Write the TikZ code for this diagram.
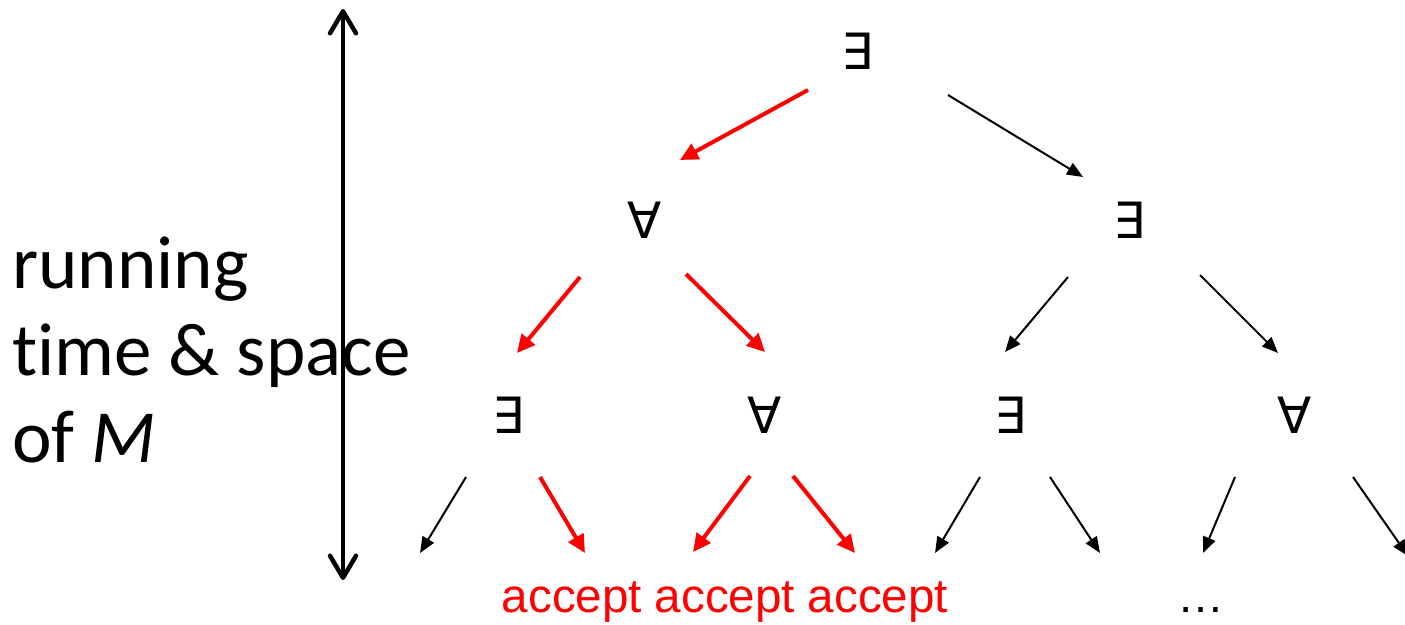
\documentclass[tikz,border=0pt]{standalone}
\usepackage{fontspec}
\setmainfont[Ligatures=NoCommon]{Carlito}
\newfontfamily\arialf{Liberation Sans}
\newfontfamily\symf{DejaVu Sans}
\usetikzlibrary{arrows.meta}
\definecolor{accred}{RGB}{255,0,0}
\tikzset{
  quant/.style={font=\symf\fontsize{50}{54}\selectfont, inner sep=0pt},
  acc/.style={font=\arialf\fontsize{47.6}{52}\selectfont, text=accred, inner sep=0pt, anchor=base},
  redarr/.style={draw=accred, line width=4pt, -{Triangle[length=18pt,width=17pt]}},
  blkarr/.style={draw=black, line width=2pt, -{Triangle[length=16pt,width=13pt]}},
  lbl/.style={font=\fontsize{75}{85}\selectfont, inner sep=0pt, anchor=base west},
}
\begin{document}
\begin{tikzpicture}[x=1pt,y=-1pt]
\useasboundingbox[fill=white] (0,0) rectangle (1405,624);
% time axis
\coordinate (top) at (343,9);
\coordinate (bot) at (343,580);
\draw[line width=4.5pt, line cap=round, {Straight Barb[length=22pt,width=26pt,line cap=round,line join=round]}-{Straight Barb[length=22pt,width=26pt,line cap=round,line join=round]}] (top) -- (bot);
% label
\node[lbl] (t1) at (12,288) {running};
\node[lbl] (t2) at (12,375) {time \& space};
\node[lbl] (t3) at (12,462) {of \textit{M}};
% quantifier nodes
\node[quant] (r) at (857,51) {∃};
\node[quant] (a) at (645,220) {∀};
\node[quant] (b) at (1129,220) {∃};
\node[quant] (c) at (508,415) {∃};
\node[quant] (d) at (765,415) {∀};
\node[quant] (e) at (1010,415) {∃};
\node[quant] (f) at (1295,415) {∀};
% leaves
\node[acc] (acc1) at (572,612) {accept};
\node[acc] (acc2) at (725,612) {accept};
\node[acc] (acc3) at (878,612) {accept};
\node[font=\arialf\fontsize{47}{52}\selectfont, inner sep=0pt, anchor=base] (dots) at (1201,612) {…};
\coordinate (l1) at (420,553);
\coordinate (l2) at (935,553);
\coordinate (l3) at (1100,553);
\coordinate (l4) at (1203,553);
\coordinate (l5) at (1408,556);
% edges
\draw[redarr] ([shift={(-49,39)}]r.center) -- ([shift={(35,-60)}]a.center);
\draw[blkarr] ([shift={(91,44)}]r.center) -- ([shift={(-46,-43)}]b.center);
\draw[redarr] ([shift={(-65,57)}]a.center) -- ([shift={(9,-62)}]c.center);
\draw[redarr] ([shift={(41,54)}]a.center) -- ([shift={(0,-63)}]d.center);
\draw[blkarr] ([shift={(-61,57)}]b.center) -- ([shift={(-5,-63)}]e.center);
\draw[blkarr] ([shift={(71,55)}]b.center) -- ([shift={(-17,-62)}]f.center);
\draw[blkarr] ([shift={(-42,62)}]c.center) -- (l1);
\draw[redarr] ([shift={(32,62)}]c.center) -- ([shift={(13,-59)}]acc1.base);
\draw[redarr] ([shift={(-15,61)}]d.center) -- ([shift={(-32,-60)}]acc2.base);
\draw[redarr] ([shift={(28,61)}]d.center) -- ([shift={(-23,-59)}]acc3.base);
\draw[blkarr] ([shift={(-30,62)}]e.center) -- (l2);
\draw[blkarr] ([shift={(40,62)}]e.center) -- (l3);
\draw[blkarr] ([shift={(-60,62)}]f.center) -- (l4);
\draw[blkarr] ([shift={(58,62)}]f.center) -- (l5);
\end{tikzpicture}
\end{document}
